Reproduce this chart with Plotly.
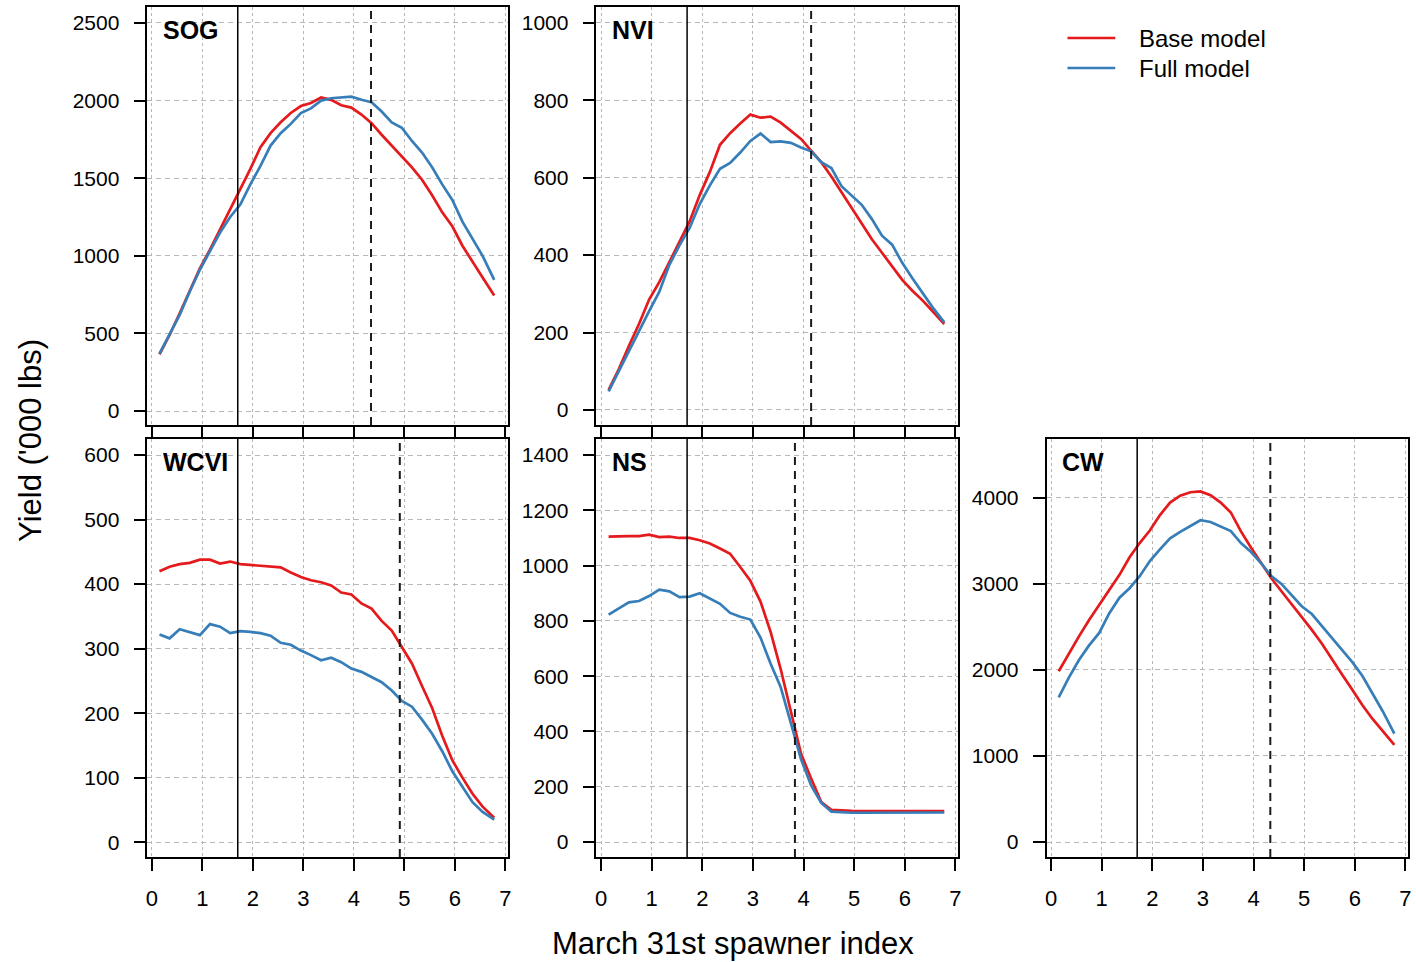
import plotly.graph_objects as go

# ---------------- data ----------------
x_index = [0.15, 0.35, 0.55, 0.75, 0.95, 1.15, 1.35, 1.55, 1.75, 1.95,
           2.15, 2.35, 2.55, 2.75, 2.95, 3.15, 3.35, 3.55, 3.75, 3.95,
           4.15, 4.35, 4.55, 4.75, 4.95, 5.15, 5.35, 5.55, 5.75, 5.95,
           6.15, 6.35, 6.55, 6.78]

panel_names = ["SOG", "NVI", "WCVI", "NS", "CW"]

sog_base = [365, 490, 630, 780, 920, 1040, 1170, 1300, 1420, 1560,
            1700, 1790, 1860, 1920, 1965, 1985, 2020, 2005, 1970, 1955,
            1910, 1855, 1780, 1710, 1640, 1570, 1490, 1390, 1280, 1190,
            1065, 960, 860, 745]
sog_full = [370, 490, 620, 770, 910, 1030, 1150, 1250, 1330, 1460,
            1580, 1710, 1790, 1850, 1920, 1950, 2000, 2015, 2020, 2025,
            2005, 1990, 1930, 1860, 1825, 1740, 1665, 1570, 1460, 1360,
            1220, 1110, 1000, 845]

nvi_base = [52, 105, 165, 222, 285, 330, 382, 435, 487, 555,
            615, 685, 715, 740, 763, 755, 758, 742, 720, 700,
            670, 640, 603, 563, 522, 480, 441, 406, 370, 336,
            308, 283, 255, 222]
nvi_full = [48, 100, 155, 205, 255, 305, 375, 425, 470, 532,
            580, 623, 638, 665, 695, 714, 692, 694, 690, 678,
            668, 640, 625, 578, 555, 530, 493, 450, 427, 380,
            340, 303, 265, 226]

wcvi_base = [420, 427, 431, 433, 438, 438, 432, 435, 431, 430,
             429, 428, 426, 418, 411, 406, 403, 398, 387, 384,
             370, 362, 343, 328, 302, 277, 242, 208, 165, 127,
             100, 75, 55, 38]
wcvi_full = [322, 316, 330, 325, 321, 338, 334, 324, 327, 326,
             324, 320, 309, 306, 297, 290, 282, 286, 279, 269,
             264, 256, 248, 235, 219, 210, 190, 168, 141, 110,
             85, 62, 47, 35]

ns_base = [1105, 1107, 1107, 1107, 1112, 1103, 1105, 1100, 1100, 1092,
           1080, 1062, 1043, 995, 945, 870, 760, 625, 470, 320,
           230, 145, 117, 114, 113, 112, 112, 112, 112, 112,
           112, 112, 112, 112]
ns_full = [823, 846, 867, 872, 890, 913, 907, 886, 888, 900,
           880, 862, 829, 815, 805, 740, 645, 560, 430, 300,
           205, 142, 110, 107, 106, 106, 106, 106, 106, 106,
           106, 106, 106, 107]

cw_base = [1985, 2190, 2390, 2580, 2750, 2930, 3105, 3310, 3475, 3620,
           3800, 3945, 4025, 4065, 4075, 4030, 3945, 3830, 3610, 3420,
           3250, 3065, 2915, 2765, 2620, 2465, 2305, 2120, 1945, 1770,
           1590, 1430, 1295, 1130]
cw_full = [1680, 1910, 2115, 2285, 2430, 2660, 2840, 2950, 3090, 3265,
           3400, 3530, 3605, 3670, 3740, 3720, 3665, 3614, 3475, 3370,
           3240, 3090, 3000, 2870, 2740, 2650, 2515, 2370, 2230, 2090,
           1930, 1730, 1520, 1260]

base_series = [sog_base, nvi_base, wcvi_base, ns_base, cw_base]
full_series = [sog_full, nvi_full, wcvi_full, ns_full, cw_full]

solid_ref = [1.7, 1.7, 1.7, 1.7, 1.7]
dashed_ref = [4.34, 4.15, 4.91, 3.83, 4.33]

y_ticks = [
    [0, 500, 1000, 1500, 2000, 2500],
    [0, 200, 400, 600, 800, 1000],
    [0, 100, 200, 300, 400, 500, 600],
    [0, 200, 400, 600, 800, 1000, 1200, 1400],
    [0, 1000, 2000, 3000, 4000],
]
y_ranges = [[-90, 2603], [-39, 1041], [-23, 625], [-54, 1458], [-174, 4684]]
x_ticks = [0, 1, 2, 3, 4, 5, 6, 7]
x_range = [-0.09, 7.05]

legend_labels = ["Base model", "Full model"]
x_title = "March 31st spawner index"
y_title = "Yield ('000 lbs)"

# ---------------- style / layout ----------------
W, H = 1416, 962
RED = "#E41A1C"
BLUE = "#377EB8"
FONT = "Liberation Sans, Arial, sans-serif"
GRID = "#b8b8b8"

# pixel boxes of panels: (left, right, top, bottom)
boxes = [
    (146, 508, 7, 425),
    (597, 960, 7, 425),
    (146, 508, 439, 857),
    (597, 960, 439, 857),
    (1049, 1412, 439, 857),
]
show_xlabels = [False, False, True, True, True]


def px_x(p):
    return p / W


def px_y(p):
    return 1 - p / H


fig = go.Figure()
layout = dict(
    width=W, height=H,
    margin=dict(l=0, r=0, t=0, b=0),
    paper_bgcolor="white", plot_bgcolor="white",
    showlegend=False,
    font=dict(family=FONT, color="black"),
)
shapes = []
annotations = []

for i, name in enumerate(panel_names):
    n = "" if i == 0 else str(i + 1)
    xa, ya = "x" + n, "y" + n
    l, r, t, b = boxes[i]
    common = dict(
        showline=True, linecolor="black", linewidth=1.6, mirror=True,
        ticks="outside", ticklen=12, tickwidth=1.6, tickcolor="black",
        showgrid=True, gridcolor=GRID, gridwidth=1,
        zeroline=False,
    )
    layout["xaxis" + n] = dict(
        common, domain=[px_x(l), px_x(r)], anchor=ya, range=x_range,
        tickmode="array", tickvals=x_ticks, showticklabels=show_xlabels[i],
        griddash="3px,3px", ticklabelstandoff=9,
        tickfont=dict(family=FONT, size=22, color="black"),
    )
    layout["yaxis" + n] = dict(
        common, domain=[px_y(b), px_y(t)], anchor=xa, range=y_ranges[i],
        tickmode="array", tickvals=y_ticks[i], griddash="5px,4px",
        ticklabelstandoff=10,
        tickfont=dict(family=FONT, size=21, color="black"),
    )
    fig.add_trace(go.Scatter(x=x_index, y=base_series[i], mode="lines",
                             line=dict(color=RED, width=2.7), xaxis=xa, yaxis=ya,
                             name=legend_labels[0]))
    fig.add_trace(go.Scatter(x=x_index, y=full_series[i], mode="lines",
                             line=dict(color=BLUE, width=2.7), xaxis=xa, yaxis=ya,
                             name=legend_labels[1]))
    shapes.append(dict(type="line", xref=xa, yref=ya + " domain",
                       x0=solid_ref[i], x1=solid_ref[i], y0=0, y1=1,
                       line=dict(color="black", width=1.5)))
    shapes.append(dict(type="line", xref=xa, yref=ya + " domain",
                       x0=dashed_ref[i], x1=dashed_ref[i], y0=0, y1=1,
                       line=dict(color="#1a1a1a", width=2, dash="8px,6px")))
    annotations.append(dict(text="<b>" + name + "</b>", xref="paper", yref="paper",
                            x=px_x(l + 14), y=px_y(t + 23), xanchor="left",
                            yanchor="middle", showarrow=False,
                            font=dict(family=FONT, size=25, color="black")))

# legend (drawn manually in the empty top-right slot)
for k, (lab, col) in enumerate(zip(legend_labels, [RED, BLUE])):
    yy = 38 + 30 * k
    shapes.append(dict(type="line", xref="paper", yref="paper",
                       x0=px_x(1070), x1=px_x(1118), y0=px_y(yy), y1=px_y(yy),
                       line=dict(color=col, width=2.7)))
    annotations.append(dict(text=lab, xref="paper", yref="paper",
                            x=px_x(1140), y=px_y(yy), xanchor="left",
                            yanchor="middle", showarrow=False,
                            font=dict(family=FONT, size=24, color="black")))

annotations.append(dict(text=x_title, xref="paper", yref="paper",
                        x=px_x(734), y=px_y(943), xanchor="center", yanchor="middle",
                        showarrow=False, font=dict(family=FONT, size=31, color="black")))
annotations.append(dict(text=y_title, xref="paper", yref="paper",
                        x=px_x(28), y=px_y(440), xanchor="center", yanchor="middle",
                        textangle=-90, showarrow=False,
                        font=dict(family=FONT, size=31, color="black")))

layout["shapes"] = shapes
layout["annotations"] = annotations
fig.update_layout(**layout)
fig.write_html("out.html")
